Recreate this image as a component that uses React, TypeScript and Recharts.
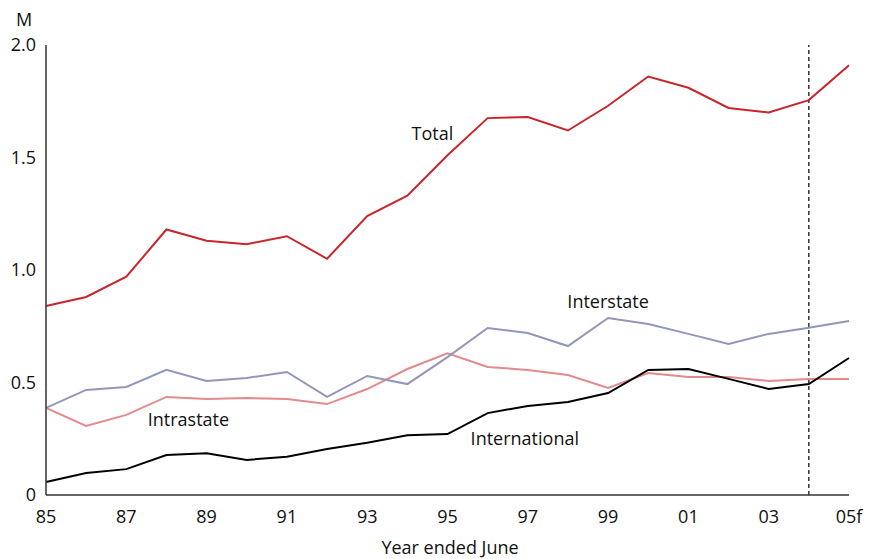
import React from "react";
import {
  LineChart,
  Line,
  XAxis,
  YAxis,
  ReferenceLine,
  ReferenceDot,
} from "recharts";

// financial years ending June, 1985 to 2005 (forecast)
const years = [
  "85", "86", "87", "88", "89", "90", "91", "92", "93", "94",
  "95", "96", "97", "98", "99", "00", "01", "02", "03", "04", "05f",
];

// millions of passengers
const total = [
  0.84, 0.88, 0.97, 1.18, 1.13, 1.115, 1.15, 1.05, 1.24, 1.33,
  1.51, 1.675, 1.68, 1.62, 1.73, 1.86, 1.81, 1.72, 1.7, 1.755, 1.91,
];
const interstate = [
  0.387, 0.467, 0.48, 0.556, 0.507, 0.52, 0.547, 0.436, 0.529, 0.493,
  0.613, 0.742, 0.72, 0.662, 0.787, 0.76, 0.716, 0.671, 0.716, 0.743, 0.773,
];
const intrastate = [
  0.387, 0.307, 0.356, 0.436, 0.427, 0.431, 0.427, 0.404, 0.471, 0.56,
  0.63, 0.569, 0.556, 0.533, 0.476, 0.542, 0.524, 0.524, 0.507, 0.516, 0.516,
];
const international = [
  0.058, 0.098, 0.115, 0.178, 0.186, 0.156, 0.17, 0.204, 0.232, 0.266,
  0.271, 0.364, 0.396, 0.413, 0.453, 0.556, 0.56, 0.516, 0.471, 0.493, 0.609,
];

const yTicks = [0, 0.5, 1, 1.5, 2];
const forecastFrom = "04";

const data = years.map((year, i) => ({
  year,
  total: total[i],
  interstate: interstate[i],
  intrastate: intrastate[i],
  international: international[i],
}));

const FONT = "'Open Sans', sans-serif";
const FS = 18;
const AXIS = "#333333";

function formatY(v: number) {
  return v === 0 ? "0" : v.toFixed(1);
}

export default function App() {
  return (
    <div style={{ width: 876, height: 559, position: "relative", fontFamily: FONT }}>
      <style>{"body{margin:0}"}</style>
      <div
        style={{
          position: "absolute",
          left: 16,
          top: 7,
          fontSize: FS,
          color: "#111",
        }}
      >
        M
      </div>
      <LineChart
        width={876}
        height={559}
        data={data}
        margin={{ top: 45, right: 27, bottom: 34, left: 0 }}
      >
        <XAxis
          dataKey="year"
          interval={1}
          tickLine={false}
          tickSize={0}
          tickMargin={15}
          height={30}
          axisLine={{ stroke: AXIS, strokeWidth: 1.5 }}
          tick={{ fill: "#111", fontSize: FS, fontFamily: FONT }}
        />
        <YAxis
          type="number"
          domain={[0, 2]}
          ticks={yTicks}
          width={46}
          tickLine={false}
          tickSize={0}
          tickMargin={10}
          tickFormatter={formatY}
          axisLine={{ stroke: AXIS, strokeWidth: 1.5 }}
          tick={{ fill: "#111", fontSize: FS, fontFamily: FONT }}
        />
        <ReferenceLine
          x={forecastFrom}
          stroke="#000"
          strokeWidth={1.2}
          strokeDasharray="4 3"
        />
        <Line
          dataKey="intrastate"
          stroke="#e38a8d"
          strokeWidth={2}
          dot={false}
          isAnimationActive={false}
        />
        <Line
          dataKey="interstate"
          stroke="#9297ba"
          strokeWidth={2}
          dot={false}
          isAnimationActive={false}
        />
        <Line
          dataKey="international"
          stroke="#000000"
          strokeWidth={2}
          dot={false}
          isAnimationActive={false}
        />
        <Line
          dataKey="total"
          stroke="#c9252c"
          strokeWidth={2}
          dot={false}
          isAnimationActive={false}
        />
        <ReferenceDot
          x="94"
          y={1.604}
          r={0}
          label={{ value: "Total", position: "center", dx: 25, fill: "#111", fontSize: FS, fontFamily: FONT }}
        />
        <ReferenceDot
          x="99"
          y={0.858}
          r={0}
          label={{ value: "Interstate", position: "center", dx: 0, fill: "#111", fontSize: FS, fontFamily: FONT }}
        />
        <ReferenceDot
          x="88"
          y={0.333}
          r={0}
          label={{ value: "Intrastate", position: "center", dx: 22, fill: "#111", fontSize: FS, fontFamily: FONT }}
        />
        <ReferenceDot
          x="97"
          y={0.249}
          r={0}
          label={{ value: "International", position: "center", dx: -3, fill: "#111", fontSize: FS, fontFamily: FONT }}
        />
      </LineChart>
      <div
        style={{
          position: "absolute",
          left: 0,
          width: 900,
          top: 535,
          textAlign: "center",
          fontSize: FS,
          color: "#111",
        }}
      >
        Year ended June
      </div>
    </div>
  );
}
